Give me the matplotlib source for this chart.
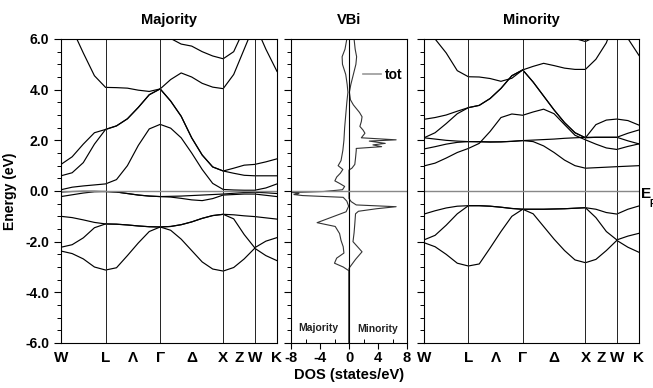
import numpy as np
import matplotlib.pyplot as plt
from matplotlib.lines import Line2D
from matplotlib.ticker import MultipleLocator, FormatStrFormatter

plt.rcParams['font.family'] = ['Liberation Sans', 'DejaVu Sans']
plt.rcParams['font.weight'] = 'bold'
plt.rcParams['axes.unicode_minus'] = False

# k path W-L-G-X-W-K (units 2pi/a) and number of read-off steps per segment
seg_len = [0.7071, 0.8660, 1.0, 0.5, 0.3536]
seg_steps = [4, 5, 6, 3, 2]
k_labels = ['W', 'L', 'Λ', 'Γ', 'Δ', 'X', 'Z', 'W', 'K']

# majority bands, energies (eV) read at the k samples
maj_b1 = [-2.37, -2.47, -2.68, -3.0, -3.12, -3.03, -2.55, -2.05, -1.6, -1.42, -1.55, -1.9, -2.35, -2.8, -3.08, -3.16, -3.02, -2.68, -2.26, -2.55, -2.75]
maj_b2 = [-2.22, -2.12, -1.85, -1.45, -1.30, -1.31, -1.34, -1.38, -1.41, -1.42, -1.40, -1.33, -1.22, -1.08, -0.97, -0.92, -1.1, -1.72, -2.24, -1.98, -1.84]
maj_b3 = [-1.0, -1.05, -1.14, -1.24, -1.30, -1.31, -1.34, -1.38, -1.41, -1.42, -1.40, -1.33, -1.22, -1.08, -0.97, -0.92, -0.94, -0.98, -1.01, -1.06, -1.11]
maj_b4 = [-0.22, -0.15, -0.08, -0.03, -0.02, -0.04, -0.1, -0.16, -0.2, -0.22, -0.24, -0.29, -0.35, -0.38, -0.3, -0.16, -0.14, -0.12, -0.12, -0.17, -0.22]
maj_b5 = [-0.04, -0.02, -0.01, -0.01, -0.02, -0.04, -0.1, -0.16, -0.2, -0.22, -0.21, -0.2, -0.18, -0.16, -0.14, -0.12, -0.09, -0.06, -0.05, -0.07, -0.1]
maj_b6 = [0.05, 0.15, 0.2, 0.24, 0.28, 0.45, 1.0, 1.8, 2.45, 2.63, 2.48, 2.1, 1.5, 0.85, 0.3, 0.06, 0.04, 0.03, 0.03, 0.12, 0.28]
maj_b7 = [0.6, 0.72, 1.12, 1.85, 2.43, 2.57, 2.85, 3.3, 3.8, 4.03, 3.55, 2.95, 2.1, 1.42, 0.95, 0.79, 0.7, 0.62, 0.6, 0.6, 0.6]
maj_b8 = [1.05, 1.35, 1.85, 2.3, 2.43, 2.57, 2.85, 3.3, 3.8, 4.03, 3.55, 2.95, 2.1, 1.42, 0.95, 0.79, 0.9, 1.02, 1.05, 1.15, 1.27]
maj_b9 = [7.6, 6.4, 5.45, 4.55, 4.09, 4.08, 4.06, 3.98, 3.93, 4.03, 4.4, 4.66, 4.5, 4.25, 4.1, 4.04, 4.6, 5.6, 6.6, 5.6, 4.72]
maj_b10 = [7.5, 7.5, 7.5, 7.5, 7.5, 7.5, 7.3, 7.1, 6.9, 6.5, 6.02, 5.8, 5.72, 5.5, 5.33, 5.22, 5.5, 6.4, 7.5, 7.5, 7.5]

# minority bands
min_m1 = [-2.04, -2.2, -2.5, -2.85, -2.96, -2.88, -2.25, -1.6, -1.0, -0.72, -0.9, -1.4, -1.9, -2.35, -2.72, -2.83, -2.7, -2.35, -1.95, -2.22, -2.42]
min_m2 = [-1.93, -1.75, -1.35, -0.9, -0.58, -0.58, -0.6, -0.64, -0.69, -0.72, -0.72, -0.72, -0.71, -0.70, -0.68, -0.66, -1.05, -1.6, -1.93, -1.78, -1.67]
min_m3 = [-0.91, -0.78, -0.67, -0.6, -0.58, -0.58, -0.6, -0.64, -0.69, -0.72, -0.72, -0.72, -0.71, -0.70, -0.68, -0.66, -0.72, -0.85, -0.91, -0.72, -0.59]
min_p1 = [0.99, 1.1, 1.3, 1.52, 1.68, 1.88, 2.35, 2.9, 3.04, 2.99, 3.12, 3.23, 3.05, 2.62, 2.2, 2.02, 1.85, 1.7, 1.64, 1.76, 1.86]
min_p2 = [1.66, 1.75, 1.85, 1.92, 1.95, 1.95, 1.94, 1.94, 1.96, 1.99, 1.95, 1.78, 1.52, 1.22, 1.0, 0.9, 0.92, 0.94, 0.96, 0.98, 1.0]
min_p3 = [2.1, 2.05, 2.0, 1.97, 1.95, 1.94, 1.93, 1.94, 1.96, 1.99, 2.01, 2.03, 2.05, 2.08, 2.1, 2.12, 2.12, 2.12, 2.12, 2.28, 2.41]
min_p4 = [2.1, 2.3, 2.66, 3.05, 3.29, 3.38, 3.65, 4.05, 4.55, 4.78, 4.3, 3.75, 3.2, 2.7, 2.3, 2.1, 2.12, 2.12, 2.12, 1.98, 1.86]
min_p5 = [2.83, 2.9, 3.0, 3.15, 3.29, 3.38, 3.65, 4.05, 4.55, 4.78, 4.3, 3.75, 3.2, 2.7, 2.3, 2.1, 2.62, 2.8, 2.84, 2.78, 2.6]
min_p6 = [7.0, 6.0, 5.45, 4.75, 4.51, 4.5, 4.44, 4.33, 4.45, 4.78, 4.92, 5.04, 4.95, 4.85, 4.8, 4.8, 5.2, 5.85, 7.0, 6.02, 5.35]
min_p7 = [7.0, 7.0, 7.0, 7.0, 7.0, 7.0, 7.0, 7.0, 7.0, 7.0, 7.0, 7.0, 7.0, 6.5, 6.02, 5.9, 6.1, 6.6, 7.0, 7.0, 7.0]

# total DOS (states/eV), majority drawn to the left
dos_up_E = [6.3, 6.0, 5.6, 5.3, 5.0, 4.6, 4.2, 3.9, 3.5, 3.0, 2.5, 2.0, 1.6, 1.2, 1.0, 0.85, 0.7, 0.55, 0.4, 0.3, 0.18, 0.05, -0.02, -0.06, -0.1, -0.14, -0.18, -0.25, -0.4, -0.6, -0.82, -1.25, -1.4, -1.68, -1.95, -2.2, -2.45, -2.65, -2.85, -3.0, -3.15, -6.5]
dos_up = [0.3, 0.3, 0.55, 0.95, 0.9, 0.45, 0.25, 0.15, 0.3, 0.45, 0.6, 0.7, 0.85, 1.1, 1.5, 0.85, 1.2, 1.7, 1.95, 1.3, 0.6, 0.9, 3.5, 7.8, 6.9, 7.6, 6.4, 0.8, 0.3, 0.05, 0.4, 4.4, 1.9, 1.3, 1.1, 0.8, 0.7, 1.7, 2.0, 0.8, 0.0, 0.0]
dos_dn_E = [6.3, 6.0, 5.6, 5.3, 5.0, 4.6, 4.2, 3.9, 3.6, 3.4, 3.1, 2.93, 2.74, 2.55, 2.4, 2.28, 2.1, 2.02, 1.97, 1.88, 1.82, 1.75, 1.68, 1.6, 1.3, 1.05, 0.9, 0.83, -0.3, -0.42, -0.55, -0.62, -0.7, -0.8, -0.9, -1.3, -1.65, -2.0, -2.4, -2.7, -3.05, -6.5]
dos_dn = [0.7, 0.7, 0.85, 1.05, 0.95, 0.6, 0.25, 0.05, 0.2, 0.6, 1.45, 1.8, 1.7, 1.5, 1.95, 2.2, 1.7, 6.5, 2.8, 5.0, 3.3, 4.5, 1.0, 1.0, 0.9, 0.8, 0.4, 0.0, 0.0, 0.3, 1.0, 6.5, 3.8, 1.3, 0.9, 0.8, 0.7, 0.55, 1.8, 0.9, 0.0, 0.0]

# k sample positions along the path
nodes = np.concatenate([[0], np.cumsum(seg_len)])
kpts = [0.0]
for i in range(len(seg_len)):
    for j in range(1, seg_steps[i] + 1):
        kpts.append(nodes[i] + seg_len[i] * j / seg_steps[i])
kpts = np.array(kpts)
label_pos = [nodes[0], nodes[1], (nodes[1] + nodes[2]) / 2, nodes[2], (nodes[2] + nodes[3]) / 2,
             nodes[3], (nodes[3] + nodes[4]) / 2, nodes[4], nodes[5]]


def setup_y(ax, labels):
    ax.set_ylim(-6, 6)
    ax.yaxis.set_major_locator(MultipleLocator(2))
    ax.yaxis.set_minor_locator(MultipleLocator(0.5))
    ax.yaxis.set_major_formatter(FormatStrFormatter('%.1f'))
    ax.tick_params(axis='y', which='major', direction='out', length=5, width=0.8, labelsize=10,
                   labelleft=labels, right=False)
    ax.tick_params(axis='y', which='minor', direction='out', length=3, width=0.7, right=False)
    for s in ax.spines.values():
        s.set_linewidth(0.8)


def band_panel(ax, bands, title):
    for b in bands:
        ax.plot(kpts, b, color='black', lw=0.85)
    for x in nodes[1:-1]:
        ax.axvline(x, color='#222222', lw=0.7)
    ax.axhline(0, color='#888888', lw=1.0)
    ax.set_xlim(nodes[0], nodes[-1])
    ax.set_xticks(label_pos)
    ax.set_xticklabels(k_labels, fontsize=11, fontweight='bold')
    ax.tick_params(axis='x', length=0, pad=6)
    ax.set_title(title, fontsize=10.5, fontweight='bold', pad=11)


fig = plt.figure(figsize=(6.53, 3.88), dpi=100)
ax1 = fig.add_axes([61 / 653, 45 / 388, 216 / 653, 304 / 388])
ax2 = fig.add_axes([291 / 653, 45 / 388, 116 / 653, 304 / 388])
ax3 = fig.add_axes([424 / 653, 45 / 388, 215 / 653, 304 / 388])

band_panel(ax1, [maj_b1, maj_b2, maj_b3, maj_b4, maj_b5, maj_b6, maj_b7, maj_b8, maj_b9, maj_b10], 'Majority')
setup_y(ax1, True)
ax1.set_ylabel('Energy (eV)', fontsize=10, fontweight='bold', labelpad=6)

band_panel(ax3, [min_m1, min_m2, min_m3, min_p1, min_p2, min_p3, min_p4, min_p5, min_p6, min_p7], 'Minority')
setup_y(ax3, False)
# E_F label, cut by the right edge as in the original
ax3.text(1.008, -0.1, 'E', transform=ax3.get_yaxis_transform(), fontsize=11, fontweight='bold',
         ha='left', va='center', clip_on=False)
ax3.text(1.05, -0.5, 'F', transform=ax3.get_yaxis_transform(), fontsize=7, fontweight='bold',
         ha='left', va='center', clip_on=False)

# DOS panel
ax2.plot(-np.array(dos_up), dos_up_E, color='#333333', lw=0.8)
ax2.plot(dos_dn, dos_dn_E, color='#333333', lw=0.8)
ax2.axvline(0, color='black', lw=0.8)
ax2.axhline(0, color='#888888', lw=1.0)
ax2.set_xlim(-8, 8)
setup_y(ax2, False)
ax2.set_xticks([-8, -4, 0, 4, 8])
ax2.set_xticklabels(['-8', '-4', '0', '4', '8'])
ax2.xaxis.set_minor_locator(MultipleLocator(2))
ax2.tick_params(axis='x', which='major', direction='out', length=4, width=0.8, labelsize=10.5, pad=2)
ax2.tick_params(axis='x', which='minor', direction='in', length=3, width=0.7)
ax2.set_xlabel('DOS (states/eV)', fontsize=10.5, fontweight='bold', labelpad=2)
ax2.set_title('VBi', fontsize=10.5, fontweight='bold', pad=11)
ax2.text(-4.3, -5.4, 'Majority', fontsize=7.5, fontweight='bold', ha='center', va='center', color='#222222')
ax2.text(4.0, -5.45, 'Minority', fontsize=7.5, fontweight='bold', ha='center', va='center', color='#222222')
ax2.legend(handles=[Line2D([], [], color='#999999', lw=1.2)], labels=['tot'], loc='center right',
           bbox_to_anchor=(1.0, 0.883), frameon=False, handlelength=1.3, handletextpad=0.3,
           borderaxespad=0.2, borderpad=0.1, fontsize=10)

fig.savefig('out.png', dpi=100)
